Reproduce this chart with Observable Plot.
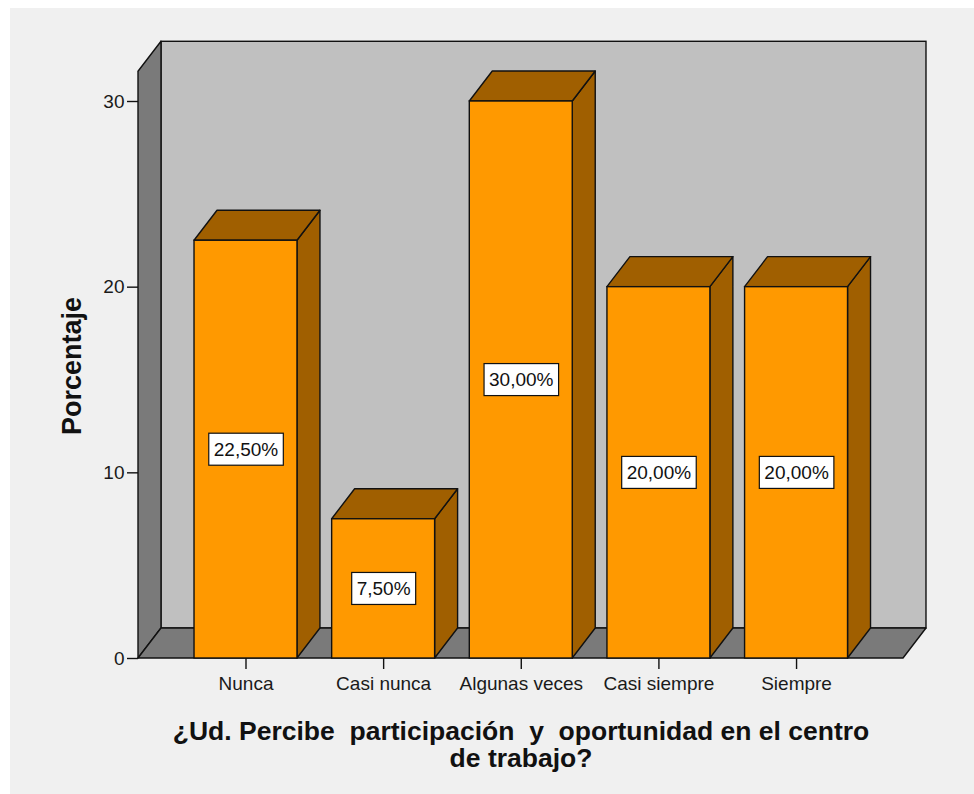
<!DOCTYPE html>
<html>
<head>
<meta charset="utf-8">
<script src="https://cdn.jsdelivr.net/npm/d3@7"></script>
<script src="https://cdn.jsdelivr.net/npm/@observablehq/plot@0.6"></script>
<style>
  html, body { margin: 0; padding: 0; background: #ffffff; }
  #panel { position: absolute; left: 10px; top: 8px; width: 964px; height: 786px; background: #f0f0f0; }
  #panel svg { background: transparent; display: block; }
  #panel svg text { white-space: pre; }
</style>
</head>
<body>
<div id="panel"></div>
<script>
// ---- data ----
const categories = ["Nunca", "Casi nunca", "Algunas veces", "Casi siempre", "Siempre"];
const values = [22.5, 7.5, 30, 20, 20];
const valueLabels = ["22,50%", "7,50%", "30,00%", "20,00%", "20,00%"];
const yTicks = [0, 10, 20, 30];
const yTitle = "Porcentaje";
const xTitle = "¿Ud. Percibe  participación  y  oportunidad en el centro\nde trabajo?";

// ---- geometry (in data units) ----
const xMin = -0.781, xMax = 4.777;
const barHalf = 0.374;
const depthX = 0.167, depthY = 1.616;
const wallTop = 31.6;

const frontColor = "#ff9900";
const darkColor = "#a05f00";
const wallColor = "#c0c0c0";
const sideWallColor = "#7a7a7a";
const edge = "#111111";
const sw = 1.4;

const bars = categories.map((c, i) => ({cat: c, i, v: values[i], label: valueLabels[i]}));

const topPts = bars.flatMap(b => [
  {cat: b.cat, y: b.v, x1: b.i - barHalf, x2: b.i + barHalf},
  {cat: b.cat, y: b.v + depthY, x1: b.i - barHalf + depthX, x2: b.i + barHalf + depthX}
]);
const sidePts = bars.flatMap(b => [
  {cat: b.cat, x: b.i + barHalf, y1: 0, y2: b.v},
  {cat: b.cat, x: b.i + barHalf + depthX, y1: depthY, y2: b.v + depthY}
]);
const leftWall = [
  {x: xMin, y1: 0, y2: wallTop},
  {x: xMin + depthX, y1: depthY, y2: wallTop + depthY}
];
const floor = [
  {y: 0, x1: xMin, x2: xMax},
  {y: depthY, x1: xMin + depthX, x2: xMax + depthX}
];

const chart = Plot.plot({
  width: 964,
  height: 786,
  marginLeft: 128,
  marginRight: 71,
  marginTop: 93,
  marginBottom: 136,
  style: {fontFamily: "Liberation Sans, Arial, sans-serif", background: "transparent", color: "#1a1a1a"},
  x: {type: "linear", domain: [xMin, xMax]},
  y: {type: "linear", domain: [0, 30]},
  marks: [
    // back wall
    Plot.rect([{}], {x1: xMin + depthX, x2: xMax + depthX, y1: depthY, y2: wallTop + depthY,
      fill: wallColor, stroke: edge, strokeWidth: sw}),
    // left wall
    Plot.areaY(leftWall, {x: "x", y1: "y1", y2: "y2", fill: sideWallColor, stroke: edge, strokeWidth: sw}),
    // floor
    Plot.areaX(floor, {y: "y", x1: "x1", x2: "x2", fill: sideWallColor, stroke: edge, strokeWidth: sw}),
    // bar sides
    Plot.areaY(sidePts, {x: "x", y1: "y1", y2: "y2", z: "cat", fill: darkColor, stroke: edge, strokeWidth: sw}),
    // bar tops
    Plot.areaX(topPts, {y: "y", x1: "x1", x2: "x2", z: "cat", fill: darkColor, stroke: edge, strokeWidth: sw}),
    // bar fronts
    Plot.rect(bars, {x1: d => d.i - barHalf, x2: d => d.i + barHalf, y1: 0, y2: "v",
      fill: frontColor, stroke: edge, strokeWidth: sw}),
    // value labels
    Plot.text(bars, {x: "i", y: d => d.v / 2, text: "label", fontSize: 19, fill: "#111"}),
    // axes
    Plot.axisY({ticks: yTicks, tickSize: 11, tickPadding: 3, fontSize: 19, label: null,
      stroke: edge, strokeWidth: sw}),
    Plot.axisX({ticks: d3.range(categories.length), tickFormat: i => categories[i],
      tickSize: 11, tickPadding: 7, fontSize: 19, label: null, stroke: edge, strokeWidth: sw}),
    // axis titles
    Plot.text([yTitle], {frameAnchor: "left", textAnchor: "middle", lineAnchor: "middle",
      dx: -66, dy: -14, rotate: -90, fontSize: 27, fontWeight: "bold", fill: "#111"}),
    Plot.text([xTitle], {frameAnchor: "bottom", textAnchor: "middle", lineAnchor: "middle",
      dy: 86, fontSize: 26.5, fontWeight: "bold", lineHeight: 1.02, fill: "#111"})
  ]
});

document.getElementById("panel").appendChild(chart);

// white boxes behind value labels
const svgNS = "http://www.w3.org/2000/svg";
chart.querySelectorAll("text").forEach(t => {
  if (!valueLabels.includes(t.textContent)) return;
  const bb = t.getBBox();
  const tr = t.getAttribute("transform");
  const r = document.createElementNS(svgNS, "rect");
  const cy = bb.y + bb.height / 2;
  r.setAttribute("x", bb.x - 5);
  r.setAttribute("y", cy - 16);
  r.setAttribute("width", bb.width + 10);
  r.setAttribute("height", 32);
  r.setAttribute("fill", "#ffffff");
  r.setAttribute("stroke", "#111");
  r.setAttribute("stroke-width", 1.2);
  if (tr) r.setAttribute("transform", tr);
  t.parentNode.insertBefore(r, t);
});
</script>
</body>
</html>
